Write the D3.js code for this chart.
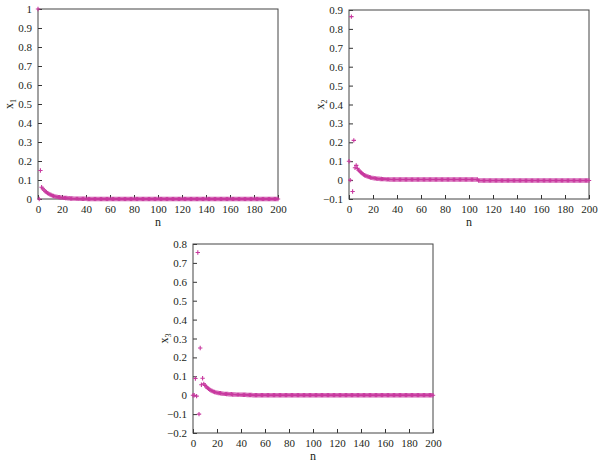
<!DOCTYPE html>
<html>
<head>
<meta charset="utf-8">
<script src="https://cdn.jsdelivr.net/npm/d3@7"></script>
<style>
  body { margin: 0; background: #fff; }
  svg { display: block; }
  .tick text { font-family: "Liberation Serif", "Times New Roman", serif; font-size: 11px; fill: #231f20; }
  .tick line { stroke: #333; }
  .lbl { font-family: "Liberation Serif", "Times New Roman", serif; font-size: 12px; fill: #231f20; }
</style>
</head>
<body>
<script>
const width = 600;
const height = 465;

// n = 0 .. 200
const nValues = d3.range(0, 201);
const xTicks = [0, 20, 40, 60, 80, 100, 120, 140, 160, 180, 200];

const x1Ticks = [0, 0.1, 0.2, 0.3, 0.4, 0.5, 0.6, 0.7, 0.8, 0.9, 1];
const x1TickLabels = ["0", "0.1", "0.2", "0.3", "0.4", "0.5", "0.6", "0.7", "0.8", "0.9", "1"];
const x2Ticks = [-0.1, 0, 0.1, 0.2, 0.3, 0.4, 0.5, 0.6, 0.7, 0.8, 0.9];
const x2TickLabels = ["\u22120.1", "0", "0.1", "0.2", "0.3", "0.4", "0.5", "0.6", "0.7", "0.8", "0.9"];
const x3Ticks = [-0.2, -0.1, 0, 0.1, 0.2, 0.3, 0.4, 0.5, 0.6, 0.7, 0.8];
const x3TickLabels = ["\u22120.2", "\u22120.1", "0", "0.1", "0.2", "0.3", "0.4", "0.5", "0.6", "0.7", "0.8"];

const x1 = [
  1, 0, 0.15, 0.062, 0.054, 0.047, 0.041, 0.036, 0.031, 0.027,
  0.024, 0.021, 0.018, 0.016, 0.014, 0.012, 0.011, 0.010, 0.009, 0.008,
  0.007, 0.006, 0.006, 0.005, 0.005, 0.004, 0.004, 0.003, 0.003, 0.003,
  0.002, 0.002, 0.002, 0.002, 0.001, 0.001, 0.001, 0.001, 0.001, 0.001,
  0.001, 0, 0, 0, 0, 0, 0, 0, 0, 0,
  0, 0, 0, 0, 0, 0, 0, 0, 0, 0,
  0, 0, 0, 0, 0, 0, 0, 0, 0, 0,
  0, 0, 0, 0, 0, 0, 0, 0, 0, 0,
  0, 0, 0, 0, 0, 0, 0, 0, 0, 0,
  0, 0, 0, 0, 0, 0, 0, 0, 0, 0,
  0, 0, 0, 0, 0, 0, 0, 0, 0, 0,
  0, 0, 0, 0, 0, 0, 0, 0, 0, 0,
  0, 0, 0, 0, 0, 0, 0, 0, 0, 0,
  0, 0, 0, 0, 0, 0, 0, 0, 0, 0,
  0, 0, 0, 0, 0, 0, 0, 0, 0, 0,
  0, 0, 0, 0, 0, 0, 0, 0, 0, 0,
  0, 0, 0, 0, 0, 0, 0, 0, 0, 0,
  0, 0, 0, 0, 0, 0, 0, 0, 0, 0,
  0, 0, 0, 0, 0, 0, 0, 0, 0, 0,
  0, 0, 0, 0, 0, 0, 0, 0, 0, 0,
  0
];

const x2 = [
  0.1, 0, 0.865, -0.06, 0.21, 0.065, 0.078, 0.062, 0.053, 0.046,
  0.040, 0.035, 0.030, 0.026, 0.023, 0.020, 0.018, 0.016, 0.014, 0.012,
  0.011, 0.010, 0.009, 0.008, 0.007, 0.007, 0.006, 0.006, 0.005, 0.005,
  0.005, 0.004, 0.004, 0.004, 0.003, 0.003, 0.003, 0.003, 0.003, 0.003,
  0.003, 0.003, 0.003, 0.003, 0.003, 0.003, 0.003, 0.003, 0.003, 0.003,
  0.003, 0.003, 0.003, 0.003, 0.003, 0.003, 0.003, 0.003, 0.003, 0.003,
  0.003, 0.003, 0.003, 0.003, 0.003, 0.003, 0.003, 0.003, 0.003, 0.003,
  0.003, 0.003, 0.003, 0.003, 0.003, 0.003, 0.003, 0.003, 0.003, 0.003,
  0.003, 0.003, 0.003, 0.003, 0.003, 0.003, 0.003, 0.003, 0.003, 0.003,
  0.003, 0.003, 0.003, 0.003, 0.003, 0.003, 0.003, 0.003, 0.003, 0.003,
  0.003, 0.003, 0.003, 0.003, 0.003, 0.003, 0.003, 0.003, -0.002, -0.002,
  -0.002, -0.002, -0.002, -0.002, -0.002, -0.002, -0.002, -0.002, -0.002, -0.002,
  -0.002, -0.002, -0.002, -0.002, -0.002, -0.002, -0.002, -0.002, -0.002, -0.002,
  -0.002, -0.002, -0.002, -0.002, -0.002, -0.002, -0.002, -0.002, -0.002, -0.002,
  -0.002, -0.002, -0.002, -0.002, -0.002, -0.002, -0.002, -0.002, -0.002, -0.002,
  -0.002, -0.002, -0.002, -0.002, -0.002, -0.002, -0.002, -0.002, -0.002, -0.002,
  -0.002, -0.002, -0.002, -0.002, -0.002, -0.002, -0.002, -0.002, -0.002, -0.002,
  -0.002, -0.002, -0.002, -0.002, -0.002, -0.002, -0.002, -0.002, -0.002, -0.002,
  -0.002, -0.002, -0.002, -0.002, -0.002, -0.002, -0.002, -0.002, -0.002, -0.002,
  -0.002, -0.002, -0.002, -0.002, -0.002, -0.002, -0.002, -0.002, -0.002, -0.002,
  -0.002
];

const x3 = [
  0, 0, 0.088, -0.005, 0.755, -0.1, 0.25, 0.055, 0.09, 0.06,
  0.052, 0.045, 0.039, 0.034, 0.029, 0.025, 0.022, 0.019, 0.017, 0.015,
  0.013, 0.012, 0.011, 0.010, 0.009, 0.008, 0.007, 0.007, 0.006, 0.006,
  0.005, 0.005, 0.005, 0.004, 0.004, 0.004, 0.003, 0.003, 0.003, 0.003,
  0.002, 0.002, 0.002, 0.002, 0.002, 0.001, 0.001, 0.001, 0.001, 0.001,
  0, 0, 0, 0, 0, 0, 0, 0, 0, 0,
  0, 0, 0, 0, 0, 0, 0, 0, 0, 0,
  0, 0, 0, 0, 0, 0, 0, 0, 0, 0,
  0, 0, 0, 0, 0, 0, 0, 0, 0, 0,
  0, 0, 0, 0, 0, 0, 0, 0, 0, 0,
  0, 0, 0, 0, 0, 0, 0, 0, 0, 0,
  0, 0, 0, 0, 0, 0, 0, 0, 0, 0,
  0, 0, 0, 0, 0, 0, 0, 0, 0, 0,
  0, 0, 0, 0, 0, 0, 0, 0, 0, 0,
  0, 0, 0, 0, 0, 0, 0, 0, 0, 0,
  0, 0, 0, 0, 0, 0, 0, 0, 0, 0,
  0, 0, 0, 0, 0, 0, 0, 0, 0, 0,
  0, 0, 0, 0, 0, 0, 0, 0, 0, 0,
  0, 0, 0, 0, 0, 0, 0, 0, 0, 0,
  0, 0, 0, 0, 0, 0, 0, 0, 0, 0,
  0
];

const markColor = "#c8399f";

const svg = d3.select("body").append("svg")
    .attr("width", width).attr("height", height);

function drawPanel(p) {
    const xScale = d3.scaleLinear().domain([0, 200]).range([p.left, p.right]);
    const yScale = d3.scaleLinear().domain(p.yDomain).range([p.bottom, p.top]);

    const g = svg.append("g");

    const xAxis = d3.axisBottom(xScale).tickValues(xTicks)
        .tickSizeInner(-4).tickSizeOuter(0).tickPadding(6);
    const yAxis = d3.axisLeft(yScale).tickValues(p.yTicks)
        .tickFormat((d, i) => p.yLabels[i])
        .tickSizeInner(-4).tickSizeOuter(0).tickPadding(6);

    g.append("g").attr("transform", "translate(0," + p.bottom + ")").call(xAxis)
        .call(a => a.select(".domain").remove());
    g.append("g").attr("transform", "translate(" + p.left + ",0)").call(yAxis)
        .call(a => a.select(".domain").remove());

    g.selectAll(".tick text").attr("font-family", null).attr("font-size", null);

    g.append("rect")
        .attr("x", p.left).attr("y", p.top)
        .attr("width", p.right - p.left).attr("height", p.bottom - p.top)
        .attr("fill", "none").attr("stroke", "#444").attr("stroke-width", 1);

    g.selectAll("path.mark").data(nValues).enter().append("path")
        .attr("class", "mark")
        .attr("d", n => {
            const cx = xScale(n), cy = yScale(p.values[n]);
            return "M" + (cx - 2.2) + "," + cy + "H" + (cx + 2.2) +
                   "M" + cx + "," + (cy - 2.2) + "V" + (cy + 2.2);
        })
        .attr("stroke", markColor).attr("stroke-width", 1.1).attr("fill", "none");

    g.append("text").attr("class", "lbl")
        .attr("x", (p.left + p.right) / 2).attr("y", p.bottom + 27)
        .attr("text-anchor", "middle").text("n");

    const yl = g.append("text").attr("class", "lbl")
        .attr("transform", "translate(" + (p.left - 25) + "," + ((p.top + p.bottom) / 2) + ") rotate(-90)")
        .attr("text-anchor", "middle");
    yl.append("tspan").text("x");
    yl.append("tspan").attr("dy", 3).attr("font-size", 8).text(p.sub);
}

drawPanel({ left: 38, right: 278, top: 9, bottom: 199, yDomain: [0, 1],
    yTicks: x1Ticks, yLabels: x1TickLabels, values: x1, sub: "1" });
drawPanel({ left: 349, right: 589, top: 10, bottom: 199, yDomain: [-0.1, 0.9],
    yTicks: x2Ticks, yLabels: x2TickLabels, values: x2, sub: "2" });
drawPanel({ left: 193, right: 433, top: 244, bottom: 433, yDomain: [-0.2, 0.8],
    yTicks: x3Ticks, yLabels: x3TickLabels, values: x3, sub: "3" });
</script>
</body>
</html>
